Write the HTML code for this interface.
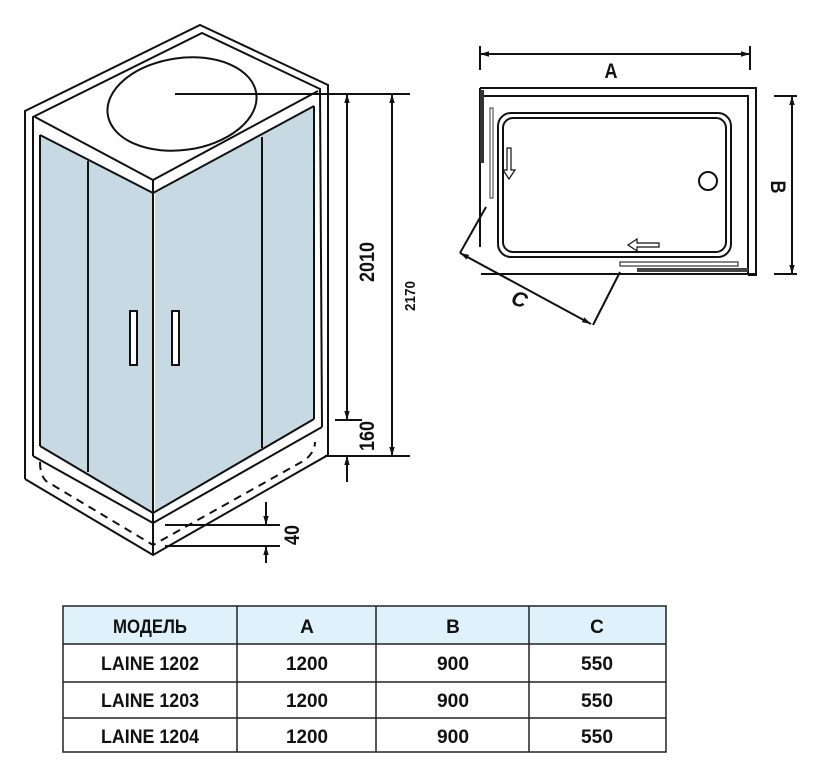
<!DOCTYPE html>
<html><head><meta charset="utf-8"><style>
html,body{margin:0;padding:0;background:#fff;}
svg{display:block;}
text{font-family:"Liberation Sans",sans-serif;font-weight:bold;fill:#111;}
</style></head><body>
<svg width="822" height="779" viewBox="0 0 822 779" xmlns="http://www.w3.org/2000/svg">
<defs>
<marker id="ar" viewBox="0 0 10 10" refX="10" refY="5" markerWidth="9" markerHeight="9" orient="auto-start-reverse" markerUnits="userSpaceOnUse"><path d="M0,2 L10,5 L0,8 Z" fill="#111"/></marker>
</defs>
<g stroke="#111" stroke-width="2" fill="none" stroke-linejoin="miter">
<polygon points="40,135 153,193 153,513 40,446" fill="#c7dae3" stroke="none"/>
<polygon points="155,193 314,106 314,419 155,513" fill="#c7dae3" stroke="none"/>
<polyline points="25,479 25,111 200,25 328,85 328,455 153,555 25,479"/>
<polyline points="33,456 33,117 202,33 320,89 322,427"/>
<polyline points="35,117 153,180 318,91"/>
<polyline points="40,135 153,193 314,106"/>
<line x1="40" y1="135" x2="40" y2="446"/>
<line x1="314" y1="106" x2="314" y2="419"/>
<polyline points="40,446 153,513 314,419"/>
<polyline points="33,456 153,523 322,427"/>
<line x1="153" y1="180" x2="153" y2="555"/>
<line x1="88" y1="161" x2="88" y2="472"/>
<line x1="262" y1="137" x2="262" y2="448"/>
<rect x="130" y="311" width="7" height="54" fill="#fff"/>
<rect x="172" y="311" width="7" height="54" fill="#fff"/>
<ellipse cx="182" cy="104" rx="75" ry="46" transform="rotate(-8 182 104)"/>
<path d="M40,462 Q40,475 46,481 L153,545 L305,460 Q315,452 315,442" stroke-dasharray="8,6"/>
<line x1="175" y1="94" x2="410" y2="94"/>
<line x1="325" y1="456" x2="410" y2="456"/>
<line x1="335" y1="420" x2="362" y2="420"/>
<line x1="347" y1="94" x2="347" y2="420" marker-start="url(#ar)" marker-end="url(#ar)"/>
<line x1="347" y1="482" x2="347" y2="456" marker-end="url(#ar)"/>
<line x1="392" y1="94" x2="392" y2="456" marker-start="url(#ar)" marker-end="url(#ar)"/>
<line x1="165" y1="525" x2="280" y2="525"/>
<line x1="165" y1="546" x2="280" y2="546"/>
<line x1="266" y1="502" x2="266" y2="525" marker-end="url(#ar)"/>
<line x1="266" y1="563" x2="266" y2="546" marker-end="url(#ar)"/>
</g>
<text transform="translate(374,262) rotate(-90)" text-anchor="middle" font-size="21" textLength="40" lengthAdjust="spacingAndGlyphs">2010</text>
<text transform="translate(374,436) rotate(-90)" text-anchor="middle" font-size="21" textLength="30" lengthAdjust="spacingAndGlyphs">160</text>
<text transform="translate(415,296) rotate(-90)" text-anchor="middle" font-size="15" textLength="30" lengthAdjust="spacingAndGlyphs">2170</text>
<text transform="translate(299,535) rotate(-90)" text-anchor="middle" font-size="21" textLength="20" lengthAdjust="spacingAndGlyphs">40</text>

<g stroke="#111" stroke-width="2" fill="none">
<polyline points="480,88 756,88 756,275 748,275"/>
<polyline points="483,96 748,96 748,273"/>
<line x1="481" y1="274" x2="756" y2="274"/>
<line x1="480" y1="88" x2="480" y2="247"/>
<rect x="498" y="113" width="233" height="144" rx="13"/>
<rect x="503" y="118" width="223" height="134" rx="10"/>
<circle cx="708" cy="181" r="9"/>
<line x1="480" y1="54" x2="750" y2="54" marker-start="url(#ar)" marker-end="url(#ar)"/>
<line x1="480" y1="46" x2="480" y2="70"/>
<line x1="750" y1="46" x2="750" y2="70"/>
<line x1="792" y1="96" x2="792" y2="274" marker-start="url(#ar)" marker-end="url(#ar)"/>
<line x1="774" y1="96" x2="797" y2="96"/>
<line x1="774" y1="274" x2="797" y2="274"/>
<line x1="486" y1="207" x2="460" y2="253"/>
<line x1="620" y1="272" x2="593" y2="325"/>
<line x1="460" y1="253" x2="591" y2="324" marker-start="url(#ar)" marker-end="url(#ar)"/>
</g>
<rect x="480" y="90" width="4" height="73" fill="#333"/>
<rect x="490" y="108" width="3" height="90" fill="#fff" stroke="#333" stroke-width="1"/>
<rect x="620" y="262" width="118" height="4" fill="#fff" stroke="#333" stroke-width="1.2"/>
<rect x="637" y="268" width="111" height="4" fill="#444"/>
<path d="M507,148 h4 v22 h4 l-6,9 l-6,-9 h4 z" fill="#fff" stroke="#111" stroke-width="1.2"/>
<path d="M659,243 v4 h-22 v4 l-9,-6 l9,-6 v4 z" fill="#fff" stroke="#111" stroke-width="1.2"/>
<text x="611" y="78" text-anchor="middle" font-size="21" textLength="13" lengthAdjust="spacingAndGlyphs">A</text>
<text transform="translate(771,187) rotate(90)" text-anchor="middle" font-size="21" textLength="13" lengthAdjust="spacingAndGlyphs">B</text>
<text transform="translate(517,306) rotate(20)" text-anchor="middle" font-size="21" font-style="italic">C</text>

<rect x="63" y="606" width="603" height="38" fill="#dff1fa"/>
<g stroke="#222" stroke-width="1.5" fill="none">
<rect x="63" y="606" width="603" height="146"/>
<line x1="63" y1="644" x2="666" y2="644"/>
<line x1="63" y1="682" x2="666" y2="682"/>
<line x1="63" y1="718" x2="666" y2="718"/>
<line x1="237" y1="606" x2="237" y2="752"/>
<line x1="376" y1="606" x2="376" y2="752"/>
<line x1="529" y1="606" x2="529" y2="752"/>
</g>
<g font-size="19" text-anchor="middle" lengthAdjust="spacingAndGlyphs">
<text x="150" y="633" textLength="74" lengthAdjust="spacingAndGlyphs">МОДЕЛЬ</text><text x="307" y="633">A</text><text x="453" y="633">B</text><text x="597" y="633">C</text>
<text x="150" y="670" textLength="98" lengthAdjust="spacingAndGlyphs">LAINE 1202</text><text x="307" y="670" textLength="42" lengthAdjust="spacingAndGlyphs">1200</text><text x="453" y="670" textLength="32" lengthAdjust="spacingAndGlyphs">900</text><text x="597" y="670" textLength="32" lengthAdjust="spacingAndGlyphs">550</text>
<text x="150" y="707" textLength="98" lengthAdjust="spacingAndGlyphs">LAINE 1203</text><text x="307" y="707" textLength="42" lengthAdjust="spacingAndGlyphs">1200</text><text x="453" y="707" textLength="32" lengthAdjust="spacingAndGlyphs">900</text><text x="597" y="707" textLength="32" lengthAdjust="spacingAndGlyphs">550</text>
<text x="150" y="743" textLength="98" lengthAdjust="spacingAndGlyphs">LAINE 1204</text><text x="307" y="743" textLength="42" lengthAdjust="spacingAndGlyphs">1200</text><text x="453" y="743" textLength="32" lengthAdjust="spacingAndGlyphs">900</text><text x="597" y="743" textLength="32" lengthAdjust="spacingAndGlyphs">550</text>
</g>
</svg>
</body></html>
